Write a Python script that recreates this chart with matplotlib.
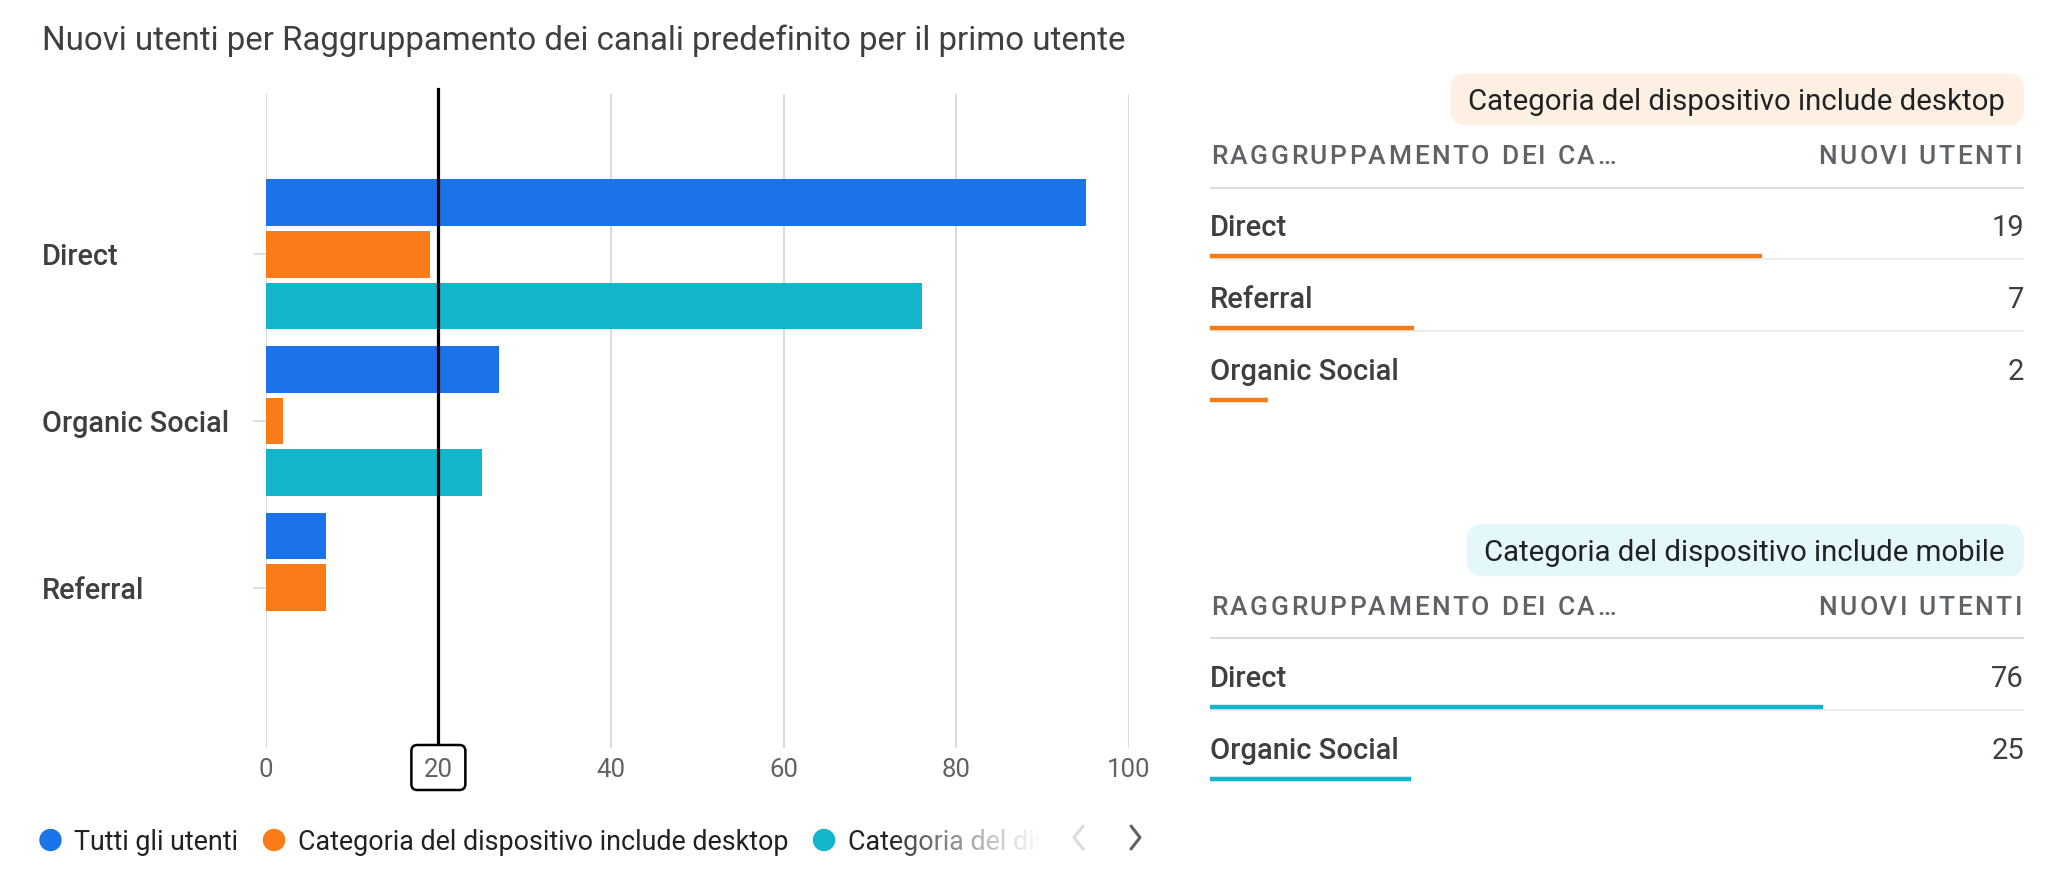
import matplotlib
matplotlib.use("Agg")
import matplotlib.pyplot as plt
import matplotlib.transforms as mtransforms
import numpy as np
from matplotlib.patches import FancyBboxPatch, Circle, Rectangle

plt.rcParams["font.family"] = ["Roboto", "DejaVu Sans"]

W, H = 2046, 871

# data
title = "Nuovi utenti per Raggruppamento dei canali predefinito per il primo utente"
channels = ["Direct", "Organic Social", "Referral"]
series_names = ["Tutti gli utenti",
                "Categoria del dispositivo include desktop",
                "Categoria del dispositivo include mobile"]
all_users = [95, 27, 7]
desktop_users = [19, 2, 7]
mobile_users = [76, 25, 0]
x_ticks = [0, 20, 40, 60, 80, 100]
cursor_x = 20
table_headers = ["RAGGRUPPAMENTO DEI CA\u2026", "NUOVI UTENTI"]

BLUE, ORANGE, TEAL = "#1a73e8", "#fa7b17", "#12b5cb"
colors = [BLUE, ORANGE, TEAL]
TEXT = "#3c4043"
GREY = "#5f6368"
GRID = "#dadce0"

fig = plt.figure(figsize=(W / 100, H / 100), dpi=100)
renderer = fig.canvas.get_renderer()


def px_axes(x0, y0, x1, y1, **kw):
    return fig.add_axes([x0 / W, 1 - y1 / H, (x1 - x0) / W, (y1 - y0) / H], **kw)


pix = px_axes(0, 0, W, H)
pix.set_xlim(0, W)
pix.set_ylim(H, 0)
pix.axis("off")


def width_px(s, **kw):
    if not s:
        return 0.0
    t = pix.text(0, 0, s, **kw)
    w = t.get_window_extent(renderer).width
    t.remove()
    return w


def spaced_text(x, y, s, sp, ha="left", **kw):
    total = width_px(s, **kw) + sp * (len(s) - 1)
    start = x if ha == "left" else x - total
    for i, c in enumerate(s):
        if c == " ":
            continue
        off = width_px(s[:i + 1], **kw) - width_px(c, **kw)
        pix.text(start + off + i * sp, y, c, ha="left", va="center_baseline", **kw)


# title
pix.text(42, 37, title, fontsize=23.8, color=TEXT, va="center_baseline")

# main bar chart
ax = px_axes(265.7, 94, 1129, 748)
ax.patch.set_visible(False)
ax.set_axisbelow(False)
y = np.arange(len(channels))
offsets = [-0.31, 0.0, 0.31]
for k, vals in enumerate([all_users, desktop_users, mobile_users]):
    ax.barh(y + offsets[k], vals, height=0.28, color=colors[k], zorder=1)
ax.set_xlim(0, 100)
ax.set_ylim(2.96, -0.96)
ax.vlines(x_ticks, 0, 1, transform=ax.get_xaxis_transform(), color=GRID, lw=1.5, zorder=0.5)
ax.set_xticks(x_ticks)
ax.tick_params(axis="x", length=0, pad=7, labelsize=18.5, labelcolor=GREY)
ax.set_yticks(y)
ax.set_yticklabels([])
ax.tick_params(axis="y", length=9.5, width=1.3, color=GRID)
for s in ax.spines.values():
    s.set_visible(False)
ax.axvline(cursor_x, ymin=0, ymax=1.0076, color="black", lw=2.3, zorder=1.5, clip_on=False)

blend = mtransforms.blended_transform_factory(pix.transData, ax.transData)
for i, name in enumerate(channels):
    ax.text(42, i, name, transform=blend, fontsize=20.8, fontweight="medium",
            color=TEXT, va="center_baseline", ha="left")

cx = ax.transData.transform((cursor_x, 0))[0]
box = FancyBboxPatch((cx - 27, 745), 54, 45, boxstyle="round,pad=0,rounding_size=6",
                     fc="white", ec="black", lw=1.8, transform=pix.transData,
                     zorder=2, clip_on=False)
ax.add_patch(box)

# legend
lx, ly = 74, 839
for k, name in enumerate(series_names):
    pix.add_patch(Circle((lx - 23.5, ly + 1), 10.5, color=colors[k], zorder=3))
    if k < len(series_names) - 1:
        pix.text(lx, ly, name, fontsize=19.4, color="#202124", va="center_baseline", zorder=3)
        lx += width_px(name, fontsize=19.4) + 36 + 23.5
    else:
        t = pix.text(lx, ly, name, fontsize=19.4, color="#202124", va="center_baseline",
                     zorder=3, clip_on=True)
        clip = Rectangle((0, 800), 1040, 70, transform=pix.transData)
        t.set_clip_path(clip)
        grad = np.ones((1, 256, 4))
        grad[0, :, 3] = np.linspace(0, 1, 256) ** 0.8
        pix.imshow(grad, extent=(890, 1041, 860, 815), aspect="auto", zorder=4,
                   interpolation="bilinear")
pix.set_xlim(0, W)
pix.set_ylim(H, 0)
pix.plot([1083, 1074, 1083], [826, 837.5, 849], color="#dadce0", lw=2.2,
         solid_capstyle="round", zorder=5)
pix.plot([1131, 1140, 1131], [826, 837.5, 849], color=GREY, lw=2.2,
         solid_capstyle="round", zorder=5)


# side tables
def draw_table(row0, vals_by_channel, color, label, pill_bg):
    pairs = sorted([(v, c) for c, v in zip(channels, vals_by_channel) if v > 0], reverse=True)
    vals = [p[0] for p in pairs]
    names = [p[1] for p in pairs]
    total = sum(vals)
    rows = np.arange(len(vals))
    tax = px_axes(1210, row0 - 2.2 * 72, 2024, row0 + 2.6 * 72)
    tax.set_xlim(0, total)
    tax.set_ylim(2.6, -2.2)
    tax.axis("off")
    tax.axhline(-0.515, color=GRID, lw=1.6)
    if len(rows) > 1:
        tax.hlines(rows[:-1] + 0.48, 0, total, color="#e8eaed", lw=1.3)
    tax.hlines(rows + 0.443, 0, vals, color=color, lw=3.2)
    for r, n, v in zip(rows, names, vals):
        tax.text(0, r, n, fontsize=21, fontweight="medium", color=TEXT,
                 va="center_baseline", ha="left")
        tax.text(total, r, str(v), fontsize=21, color=TEXT,
                 va="center_baseline", ha="right")
    hy = row0 - 0.975 * 72
    spaced_text(1211, hy, table_headers[0], 2.5, ha="left", fontsize=19,
                fontweight="medium", color=GREY)
    spaced_text(2022, hy, table_headers[1], 2.5, ha="right", fontsize=19,
                fontweight="medium", color=GREY)
    py = row0 - 1.74 * 72
    t = pix.text(2024 - 19, py, label, fontsize=21.2, color="#202124",
                 ha="right", va="center_baseline", zorder=3)
    bb = t.get_window_extent(renderer)
    x0 = bb.x0 - 18
    pix.add_patch(FancyBboxPatch((x0, py - 26), 2024 - x0, 52,
                                 boxstyle="round,pad=0,rounding_size=17",
                                 fc=pill_bg, ec="none", zorder=2))


draw_table(224.6, desktop_users, ORANGE, series_names[1], "#feefe3")
draw_table(675.5, mobile_users, TEAL, series_names[2], "#e4f7fb")

fig.savefig("out.png", dpi=100)
